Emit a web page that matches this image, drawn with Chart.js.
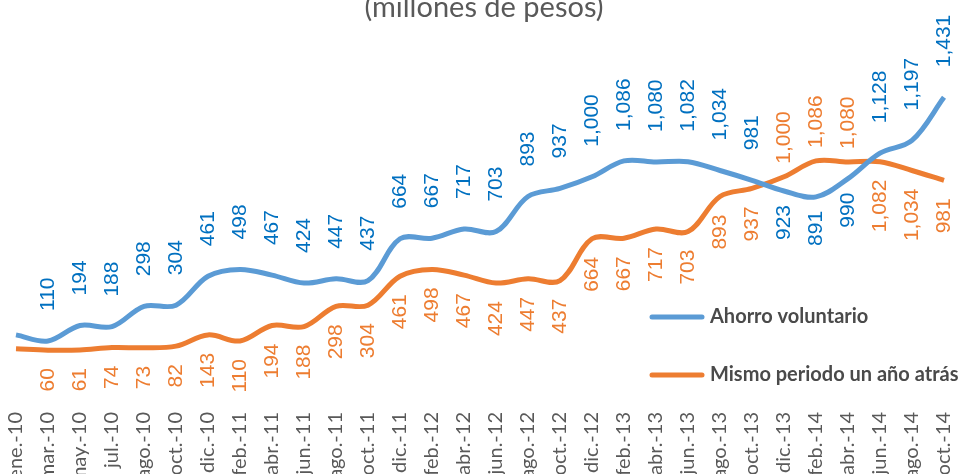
<!DOCTYPE html>
<html>
<head>
<meta charset="utf-8">
<script src="https://cdn.jsdelivr.net/npm/chart.js@4.4.0/dist/chart.umd.min.js"></script>
<style>
    html, body { margin: 0; padding: 0; background: #fff; overflow: hidden; width: 964px; height: 474px; }
    #wrap { position: absolute; left: 0; top: -20px; width: 980px; height: 520px; }
</style>
</head>
<body>
<div id="wrap"><canvas id="ahorroChart" width="980" height="520"></canvas></div>
<script>
// Data
const periodos = ['ene.-10', 'mar.-10', 'may.-10', 'jul.-10', 'ago.-10', 'oct.-10', 'dic.-10',
    'feb.-11', 'abr.-11', 'jun.-11', 'ago.-11', 'oct.-11', 'dic.-11',
    'feb.-12', 'abr.-12', 'jun.-12', 'ago.-12', 'oct.-12', 'dic.-12',
    'feb.-13', 'abr.-13', 'jun.-13', 'ago.-13', 'oct.-13', 'dic.-13',
    'feb.-14', 'abr.-14', 'jun.-14', 'ago.-14', 'oct.-14'];
const ahorroVoluntario = [143, 110, 194, 188, 298, 304, 461, 498, 467, 424, 447, 437, 664, 667, 717,
    703, 893, 937, 1000, 1086, 1080, 1082, 1034, 981, 923, 891, 990, 1128, 1197, 1431];
const mismoPeriodo = [68, 60, 61, 74, 73, 82, 143, 110, 194, 188, 298, 304, 461, 498, 467,
    424, 447, 437, 664, 667, 717, 703, 893, 937, 1000, 1086, 1080, 1082, 1034, 981];

const titulo = '(millones de pesos)';

// Rotated data labels
const etiquetasPlugin = {
    id: 'etiquetas',
    afterDatasetsDraw(chart) {
        const ctx = chart.ctx;
        chart.data.datasets.forEach((ds, di) => {
            const meta = chart.getDatasetMeta(di);
            meta.data.forEach((pt, i) => {
                if (i === 0) return; // first point has no label in the original
                const below = ds.labelBelow.includes(i);
                const txt = ds.data[i].toLocaleString('en-US');
                ctx.save();
                ctx.translate(pt.x, below ? pt.y + ds.gapBelow : pt.y - ds.gapAbove);
                ctx.rotate(-Math.PI / 2);
                ctx.textAlign = below ? 'right' : 'left';
                ctx.textBaseline = 'middle';
                ctx.font = '21px "Liberation Sans", Arial, sans-serif';
                ctx.fillStyle = ds.labelColor;
                ctx.fillText(txt, 0, 0);
                ctx.restore();
            });
        });
    }
};

// Title + legend inside the plot
const extrasPlugin = {
    id: 'extras',
    afterDraw(chart) {
        const ctx = chart.ctx;
        ctx.save();
        ctx.font = '29px Lato, sans-serif';
        ctx.fillStyle = '#595959';
        ctx.textAlign = 'center';
        ctx.textBaseline = 'alphabetic';
        ctx.fillText(titulo, 484, 37);

        const rows = [337, 395];
        chart.data.datasets.forEach((ds, i) => {
            const y = rows[i];
            ctx.strokeStyle = ds.borderColor;
            ctx.lineWidth = 5;
            ctx.lineCap = 'round';
            ctx.beginPath();
            ctx.moveTo(652, y);
            ctx.lineTo(702, y);
            ctx.stroke();
            ctx.font = 'bold 20px Lato, sans-serif';
            ctx.fillStyle = '#4a4a4a';
            ctx.textAlign = 'left';
            ctx.textBaseline = 'middle';
            ctx.fillText(ds.label, 710, y);
        });
        ctx.restore();
    }
};

const ahorroChart = new Chart(document.getElementById('ahorroChart'), {
    type: 'line',
    data: {
        labels: periodos,
        datasets: [{
            label: 'Ahorro voluntario',
            data: ahorroVoluntario,
            borderColor: '#5B9BD5',
            borderWidth: 5,
            tension: 0.35,
            pointRadius: 0,
            labelColor: '#0070C0',
            labelBelow: [24, 25, 26],
            gapAbove: 30,
            gapBelow: 14
        }, {
            label: 'Mismo periodo un año atrás',
            data: mismoPeriodo,
            borderColor: '#ED7D31',
            borderWidth: 5,
            tension: 0.35,
            pointRadius: 0,
            labelColor: '#ED7D31',
            labelBelow: [1, 2, 3, 4, 5, 6, 7, 8, 9, 10, 11, 12, 13, 14, 15, 16, 17, 18, 19, 20, 21, 22, 23, 27, 28, 29],
            gapAbove: 13,
            gapBelow: 18
        }]
    },
    options: {
        responsive: false,
        animation: false,
        layout: { padding: { top: 40, left: 16, right: 25, bottom: 0 } },
        plugins: {
            legend: { display: false },
            tooltip: { enabled: false }
        },
        scales: {
            x: {
                grid: { display: false, drawTicks: false },
                border: { display: false },
                ticks: {
                    minRotation: 90,
                    maxRotation: 90,
                    autoSkip: false,
                    padding: 12,
                    color: '#595959',
                    font: { family: 'Lato', size: 20 }
                },
                afterFit(scale) { scale.height = 100; }
            },
            y: {
                display: false,
                min: -210,
                max: 1850
            }
        }
    },
    plugins: [etiquetasPlugin, extrasPlugin]
});
</script>
</body>
</html>
